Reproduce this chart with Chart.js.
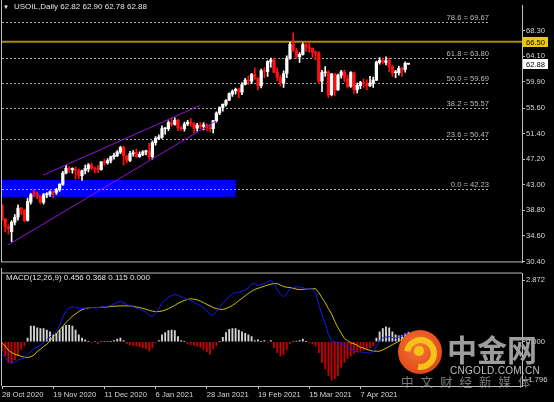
<!DOCTYPE html>
<html>
<head>
<meta charset="utf-8">
<script src="https://cdn.jsdelivr.net/npm/chart.js@4.4.1/dist/chart.umd.min.js"></script>
<style>
  html, body { margin: 0; padding: 0; background: #000; }
  #wrap { position: relative; width: 554px; height: 402px; overflow: hidden; background: #000;
          font-family: "Liberation Sans", Arial, sans-serif; }
  canvas { position: absolute; left: 0; }
  #main { top: 0; }
  #macd { top: 268px; }
  .txt { position: absolute; color: #e4e4e4; font-size: 8px; line-height: 1; white-space: nowrap; }
  .wm { position: absolute; white-space: nowrap; line-height: 1; pointer-events: none; }
</style>
</head>
<body>
<div id="wrap">
  <canvas id="main" width="554" height="268"></canvas>
  <canvas id="macd" width="554" height="134"></canvas>

  <div class="txt" style="left:3px;top:4px;font-size:6px;">&#9660;</div>
  <div class="txt" id="header" style="left:14px;top:3px;"></div>
  <div class="txt" id="macdTitle" style="left:6px;top:274px;"></div>

  <!-- watermark -->
  <div class="wm" style="left:398px;top:330px;width:44px;height:44px;border-radius:50%;
       background:radial-gradient(circle at 45% 40%, #f47a34 0%, #e6501f 60%, #cf3c17 100%);"></div>
  <div class="wm" style="left:404px;top:337px;width:21px;height:21px;border-radius:50%;
       border:6px solid #f6c21a;border-left-color:transparent;transform:rotate(-35deg);"></div>
  <div class="wm" style="left:414px;top:346px;width:10px;height:10px;border-radius:50%;background:#f6c21a;"></div>
  <div class="wm" style="left:447px;top:333px;font-family:'Noto Sans CJK SC';font-weight:700;font-size:30px;color:rgba(170,170,170,0.92);">中金网</div>
  <div class="wm" style="left:450px;top:366px;font-family:'Liberation Sans';font-size:10px;letter-spacing:0.3px;color:rgba(210,210,210,0.9);">CNGOLD.COM.CN</div>
  <div class="wm" style="left:401px;top:376px;font-family:'Noto Sans CJK SC';font-size:12.5px;letter-spacing:7px;color:rgba(160,160,160,0.75);">中文财经新媒体</div>
</div>

<script>
// ---- data ----
const symbol = "USOIL,Daily";
const dateTicks = [0, 16, 32, 48, 64, 80, 96, 112];
const dateLabels = ["28 Oct 2020", "19 Nov 2020", "11 Dec 2020", "6 Jan 2021",
                    "28 Jan 2021", "19 Feb 2021", "15 Mar 2021", "7 Apr 2021"];
const priceTicks = [68.30, 64.10, 59.90, 55.60, 51.40, 47.20, 43.00, 38.80, 34.60, 30.40];
const macdTicks = [2.872, 0, -1.796];

const opens = [
  39.60,37.40,36.10,35.30,36.85,37.70,39.15,38.80,37.20,40.20,
  41.70,41.45,41.10,40.15,41.35,41.45,41.80,41.75,42.15,43.05,
  44.90,45.70,45.50,45.50,45.30,44.50,45.30,45.60,46.25,45.70,
  45.60,45.50,46.80,46.60,47.00,47.60,47.80,48.35,49.10,47.70,
  47.00,48.10,48.30,47.60,48.00,48.40,48.50,47.60,49.90,50.60,
  50.80,52.20,52.20,53.20,52.90,53.60,52.30,52.20,53.00,53.20,
  53.10,52.30,52.80,52.60,52.80,52.30,52.20,53.50,54.80,55.70,
  56.20,56.90,57.90,58.40,58.70,58.20,59.50,60.20,60.00,61.10,
  60.50,59.30,61.70,61.60,63.20,63.50,61.50,60.60,59.70,61.30,
  63.80,66.10,65.00,64.00,64.40,66.00,65.60,65.40,64.80,64.60,
  60.00,61.40,61.50,57.80,61.20,58.60,61.00,61.50,60.50,59.20,
  61.40,58.60,59.30,59.80,59.60,59.30,59.70,60.20,63.10,63.40,
  63.10,63.40,62.40,61.40,61.40,62.10,61.90,62.82
];
const highs = [
  39.80,37.50,36.40,37.10,38.10,39.70,39.30,38.95,40.80,41.60,
  42.20,41.80,41.20,41.60,41.70,42.00,42.00,42.40,43.20,45.20,
  46.20,46.00,45.80,45.90,45.60,45.40,46.25,46.50,46.60,45.90,
  46.20,46.80,47.20,47.30,47.70,48.20,48.60,49.30,49.30,47.80,
  48.50,48.60,48.90,48.40,48.60,48.70,49.80,50.20,50.90,51.20,
  52.70,52.40,53.50,53.90,54.00,53.80,52.60,53.30,53.60,53.90,
  53.20,53.10,53.20,53.20,53.00,52.80,53.60,55.00,55.80,56.30,
  57.00,58.10,58.60,58.90,58.90,59.80,60.50,60.90,61.30,62.20,
  60.60,62.00,62.30,63.40,63.80,63.80,62.20,61.00,61.70,64.20,
  66.40,67.98,65.40,64.70,66.30,66.40,66.40,65.50,65.00,64.90,
  61.80,62.40,61.70,61.30,61.30,61.20,61.80,61.90,61.00,61.60,
  61.50,59.70,60.00,60.40,60.30,60.80,60.70,63.30,63.90,63.80,
  64.00,63.80,62.60,61.80,62.50,62.30,63.20,62.90
];
const lows = [
  37.10,35.30,34.90,33.64,36.40,37.20,38.10,36.90,37.00,39.80,
  41.00,40.70,39.90,39.80,40.90,41.10,40.90,41.40,41.90,42.90,
  44.80,45.00,44.90,43.90,44.00,43.70,44.80,45.10,45.40,44.90,
  45.00,45.40,46.20,46.40,46.60,47.20,47.60,48.10,46.20,46.60,
  46.80,47.70,47.50,47.50,47.80,47.90,47.20,47.20,49.50,50.40,
  50.60,51.30,51.90,52.60,52.80,51.90,51.90,51.80,52.70,52.60,
  51.50,51.80,52.20,52.00,51.90,51.70,51.50,53.30,54.50,55.10,
  55.90,56.80,57.50,57.90,57.30,57.80,59.40,59.50,59.60,60.30,
  58.60,58.90,60.60,60.80,62.30,61.40,60.10,59.20,59.00,60.60,
  63.60,64.90,63.70,63.10,64.30,64.90,64.80,63.90,63.50,59.60,
  58.30,60.80,57.30,57.60,57.60,58.50,60.50,59.90,58.90,59.00,
  58.00,58.10,58.80,58.90,58.60,59.10,59.00,60.10,62.80,62.80,
  62.70,61.60,60.80,60.60,61.00,60.80,61.50,62.78
];
const closes = [
  37.39,36.17,35.79,36.81,37.66,39.15,38.79,37.14,40.29,41.36,
  41.45,41.12,40.13,41.34,41.43,41.82,41.74,42.15,43.06,44.91,
  45.71,45.50,45.53,45.34,44.55,45.28,45.64,46.26,45.76,45.60,
  45.52,46.78,46.57,46.99,47.62,47.82,48.36,49.10,47.74,47.02,
  48.12,48.23,47.62,48.00,48.40,48.52,47.62,49.93,50.63,50.83,
  52.24,52.25,53.21,52.91,53.57,52.36,52.20,52.98,53.24,53.13,
  52.27,52.77,52.61,52.85,52.34,52.20,53.55,54.76,55.69,56.23,
  56.85,57.97,58.36,58.68,58.24,59.47,60.20,60.05,61.14,60.52,
  59.24,61.70,61.67,63.22,63.53,61.50,60.64,59.75,61.28,63.83,
  66.09,65.05,64.01,64.44,66.02,65.61,65.39,64.80,64.60,60.00,
  61.42,61.55,57.76,61.18,58.56,60.97,61.56,60.55,59.16,61.45,
  58.65,59.33,59.77,59.60,59.32,59.70,60.18,63.15,63.46,63.13,
  63.38,62.44,61.35,61.43,62.14,61.91,62.94,62.88
];

const macdLine = [
  -0.55,-0.75,-0.92,-0.99,-0.95,-0.85,-0.80,-0.76,-0.60,-0.45,
  -0.32,-0.25,-0.16,-0.05,0.10,0.22,0.35,0.50,0.78,1.15,
  1.45,1.58,1.63,1.60,1.57,1.56,1.57,1.60,1.60,1.59,
  1.60,1.62,1.63,1.66,1.70,1.77,1.83,1.88,1.82,1.74,
  1.68,1.63,1.57,1.52,1.46,1.38,1.24,1.18,1.38,1.55,
  1.80,1.95,2.08,2.15,2.21,2.17,2.11,2.05,1.98,1.92,
  1.84,1.76,1.70,1.58,1.46,1.26,1.25,1.40,1.60,1.80,
  1.95,2.12,2.24,2.30,2.32,2.36,2.42,2.52,2.70,2.72,
  2.63,2.68,2.72,2.80,2.872,2.74,2.44,2.22,2.10,2.25,
  2.48,2.55,2.56,2.57,2.53,2.48,2.48,2.47,2.30,1.75,
  1.25,0.85,0.35,0.05,0.00,-0.02,-0.06,-0.15,-0.28,-0.33,
  -0.44,-0.47,-0.48,-0.50,-0.52,-0.54,-0.45,-0.22,0.05,0.18,
  0.22,0.24,0.20,0.17,0.21,0.26,0.37,0.456
];
const signalLine = [
  -0.05,-0.20,-0.40,-0.50,-0.58,-0.63,-0.68,-0.72,-0.74,-0.70,
  -0.62,-0.46,-0.35,-0.22,-0.12,0.05,0.22,0.38,0.55,0.72,
  0.90,1.05,1.20,1.30,1.42,1.50,1.55,1.58,1.60,1.60,
  1.60,1.61,1.62,1.63,1.65,1.66,1.67,1.68,1.68,1.68,
  1.67,1.66,1.62,1.60,1.56,1.52,1.47,1.43,1.41,1.41,
  1.44,1.48,1.55,1.62,1.70,1.80,1.87,1.93,1.98,2.01,
  1.99,1.96,1.90,1.83,1.75,1.68,1.60,1.55,1.52,1.51,
  1.55,1.62,1.70,1.80,1.92,2.03,2.15,2.26,2.36,2.45,
  2.50,2.55,2.60,2.65,2.69,2.72,2.72,2.65,2.58,2.55,
  2.54,2.50,2.46,2.44,2.45,2.47,2.48,2.48,2.48,2.30,
  2.05,1.83,1.55,1.30,0.95,0.65,0.40,0.15,0.05,-0.05,
  -0.09,-0.17,-0.25,-0.30,-0.36,-0.40,-0.44,-0.44,-0.44,-0.38,
  -0.30,-0.22,-0.13,-0.06,0.02,0.12,0.25,0.368
];
const macdHist = [
  -0.43,-0.66,-0.96,-1.00,-0.84,-0.63,-0.36,-0.18,0.17,0.73,
  0.73,0.65,0.62,0.62,0.55,0.47,0.32,0.40,0.55,0.70,
  0.77,0.77,0.73,0.55,0.32,0.17,0.09,0.02,-0.03,0.00,
  -0.09,0.00,0.00,0.00,0.02,0.06,0.12,0.17,0.06,-0.10,
  -0.15,-0.18,-0.21,-0.24,-0.28,-0.33,-0.44,-0.28,-0.03,0.06,
  0.32,0.43,0.52,0.55,0.52,0.24,0.06,0.02,-0.10,-0.13,
  -0.16,-0.21,-0.28,-0.36,-0.48,-0.59,-0.33,-0.18,0.02,0.21,
  0.43,0.58,0.62,0.62,0.55,0.47,0.40,0.32,0.24,0.06,
  0.09,0.02,0.06,-0.03,0.05,-0.28,-0.51,-0.66,-0.59,-0.36,
  -0.10,0.00,0.03,0.06,0.12,0.02,-0.03,-0.09,-0.21,-0.51,
  -0.96,-1.27,-1.57,-1.796,-1.72,-1.57,-1.19,-0.96,-0.78,-0.66,
  -0.54,-0.48,-0.44,-0.39,-0.33,-0.28,-0.18,0.17,0.47,0.62,
  0.70,0.65,0.47,0.32,0.28,0.30,0.38,0.456
];
const macdReadout = [0.456, 0.368, 0.115, 0.000];

// analysis objects (bar index / price)
const fibNames = ["78.6", "61.8", "50.0", "38.2", "23.6", "0.0"];
const fibPrices = [69.67, 63.80, 59.69, 55.57, 50.47, 42.23];
const fibEndBar = 152.2;
const resistance = 66.50;
const zoneBars = [0, 73];
const zonePrices = [41.02, 43.78];
const channelUpperX = [12.8, 61.9], channelUpperY = [44.57, 56.04];
const channelLowerX = [1.9, 66.9], channelLowerY = [33.11, 53.49];

// ---- setup ----
const FONT = "Liberation Sans";
Chart.defaults.font.family = FONT;
Chart.defaults.font.size = 7.6;
Chart.defaults.color = "#d8d8d8";

const last = closes.length - 1;
document.getElementById("header").textContent =
  symbol + "  " + [opens[last], highs[last], lows[last], closes[last]].map(v => v.toFixed(2)).join(" ");
document.getElementById("macdTitle").textContent =
  "MACD(12,26,9) " + macdReadout.map(v => v.toFixed(3)).join(" ");

const idx = opens.map((_, i) => i);
const candleColors = idx.map(i => closes[i] >= opens[i] ? "#ffffff" : "#ff1010");
const histColors = macdHist.map(v => v >= 0 ? "#d4d4d4" : "#c80000");
const frameColor = "#bdbdbd";
const X_MAX = 162.5;

const framePlugin = {
  id: "frame",
  afterDraw(chart) {
    const { ctx, chartArea: a } = chart;
    ctx.save();
    ctx.strokeStyle = frameColor;
    ctx.lineWidth = 1;
    ctx.beginPath();
    ctx.moveTo(a.left - 0.5, 0);
    ctx.lineTo(a.left - 0.5, a.bottom);
    if (chart.canvas.id === "main") {
      ctx.moveTo(a.left - 0.5, a.bottom - 0.5);
      ctx.lineTo(a.right, a.bottom - 0.5);
    } else {
      ctx.moveTo(a.left - 0.5, a.top - 0.5);
      ctx.lineTo(a.right, a.top - 0.5);
    }
    ctx.stroke();
    ctx.restore();
  }
};

const objectsPlugin = {
  id: "objects",
  beforeDatasetsDraw(chart) {
    const { ctx, chartArea: a, scales: { x, y } } = chart;
    ctx.save();
    ctx.beginPath();
    ctx.rect(a.left, a.top, a.right - a.left, a.bottom - a.top);
    ctx.clip();

    // demand zone
    const zx0 = x.getPixelForValue(zoneBars[0]), zx1 = x.getPixelForValue(zoneBars[1]);
    const zy0 = y.getPixelForValue(zonePrices[1]), zy1 = y.getPixelForValue(zonePrices[0]);
    ctx.fillStyle = "#0000ff";
    ctx.fillRect(zx0, zy0, zx1 - zx0, zy1 - zy0);

    // resistance line
    const ry = y.getPixelForValue(resistance);
    ctx.strokeStyle = "#a48c00";
    ctx.lineWidth = 2;
    ctx.beginPath();
    ctx.moveTo(a.left, ry);
    ctx.lineTo(a.right, ry);
    ctx.stroke();

    // fibonacci levels
    const fx1 = x.getPixelForValue(fibEndBar);
    ctx.lineWidth = 1;
    ctx.setLineDash([2, 2]);
    ctx.strokeStyle = "#a9a9a9";
    ctx.font = "7.6px " + FONT;
    ctx.textAlign = "right";
    ctx.textBaseline = "bottom";
    fibPrices.forEach((p, k) => {
      const fy = Math.round(y.getPixelForValue(p)) + 0.5;
      ctx.beginPath();
      ctx.moveTo(a.left, fy);
      ctx.lineTo(fx1, fy);
      ctx.stroke();
      ctx.fillStyle = "#bcbcbc";
      ctx.fillText(fibNames[k] + " = " + p.toFixed(2), fx1, fy - 1);
    });
    ctx.restore();
  },
  afterDraw(chart) {
    const { ctx, chartArea: a, scales: { y } } = chart;
    const tag = (value, bg) => {
      const ty = y.getPixelForValue(value);
      ctx.fillStyle = bg;
      ctx.fillRect(a.right + 1, Math.round(ty) - 5, 25, 10);
      ctx.fillStyle = "#000";
      ctx.font = "7.6px " + FONT;
      ctx.textAlign = "left";
      ctx.textBaseline = "middle";
      ctx.fillText(value.toFixed(2), a.right + 4, Math.round(ty) + 0.5);
    };
    ctx.save();
    tag(resistance, "#f0c800");
    tag(closes[last], "#ffffff");
    ctx.restore();
  }
};

const xAxisBase = (display) => ({
  type: "linear",
  min: 0,
  max: X_MAX,
  offset: false,
  display: display,
  grid: { drawOnChartArea: false, offset: false, tickLength: 3, color: frameColor },
  border: { color: frameColor }
});

const yAxisBase = (min, max, ticks, digits) => ({
  position: "right",
  min: min,
  max: max,
  afterBuildTicks: s => { s.ticks = ticks.map(v => ({ value: v })); },
  afterFit: s => { s.width = 32; },
  ticks: { autoSkip: false, padding: 1, color: "#d8d8d8", callback: v => Number(v).toFixed(digits) },
  grid: { drawOnChartArea: false, tickLength: 3, color: frameColor },
  border: { color: frameColor }
});

// ---- price chart ----
new Chart(document.getElementById("main"), {
  type: "bar",
  data: {
    datasets: [
      {
        type: "line",
        data: channelUpperX.map((v, k) => ({ x: v, y: channelUpperY[k] })),
        borderColor: "#9414d8", borderWidth: 1, pointRadius: 0
      },
      {
        type: "line",
        data: channelLowerX.map((v, k) => ({ x: v, y: channelLowerY[k] })),
        borderColor: "#9414d8", borderWidth: 1, pointRadius: 0
      },
      {
        data: idx.map(i => ({ x: i, y: [opens[i], closes[i]] })),
        backgroundColor: candleColors,
        barThickness: 2.6, minBarLength: 1, grouped: false
      },
      {
        data: idx.map(i => ({ x: i, y: [lows[i], highs[i]] })),
        backgroundColor: candleColors,
        barThickness: 1, minBarLength: 1, grouped: false
      }
    ]
  },
  options: {
    responsive: false,
    animation: false,
    events: [],
    layout: { padding: { left: 2, top: 2, right: 0, bottom: 1 }, autoPadding: false },
    plugins: { legend: { display: false }, tooltip: { enabled: false } },
    scales: {
      x: xAxisBase(false),
      y: yAxisBase(30.24, 72.44, priceTicks, 2)
    }
  },
  plugins: [objectsPlugin, framePlugin]
});

// ---- MACD chart ----
new Chart(document.getElementById("macd"), {
  type: "bar",
  data: {
    datasets: [
      {
        type: "line",
        data: idx.map(i => ({ x: i, y: macdLine[i] })),
        borderColor: "#1818f0", borderWidth: 1, pointRadius: 0
      },
      {
        type: "line",
        data: idx.map(i => ({ x: i, y: signalLine[i] })),
        borderColor: "#d0c000", borderWidth: 1, pointRadius: 0
      },
      {
        data: idx.map(i => ({ x: i, y: macdHist[i] })),
        backgroundColor: histColors,
        barThickness: 1.2, grouped: false
      }
    ]
  },
  options: {
    responsive: false,
    animation: false,
    events: [],
    layout: { padding: { left: 2, top: 2, right: 0, bottom: 0 }, autoPadding: false },
    plugins: { legend: { display: false }, tooltip: { enabled: false } },
    scales: {
      x: Object.assign(xAxisBase(true), {
        afterBuildTicks: s => { s.ticks = dateTicks.map(v => ({ value: v })); },
        afterFit: s => { s.height = 16; },
        ticks: {
          autoSkip: false, maxRotation: 0, align: "start", padding: 1, color: "#d8d8d8",
          callback: v => dateLabels[dateTicks.indexOf(v)]
        }
      }),
      y: yAxisBase(-2.068, 3.189, macdTicks, 3)
    }
  },
  plugins: [framePlugin]
});
</script>
</body>
</html>
